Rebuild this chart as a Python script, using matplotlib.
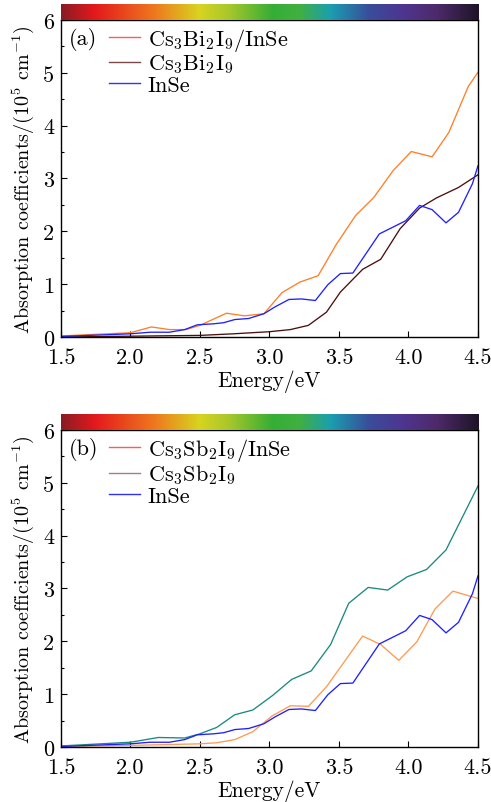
import numpy as np
import matplotlib
matplotlib.use("Agg")
import matplotlib.pyplot as plt
from matplotlib.colors import LinearSegmentedColormap
from matplotlib.lines import Line2D
from matplotlib.ticker import MultipleLocator

plt.rcParams['font.family'] = 'serif'
plt.rcParams['font.serif'] = ['cmr10', 'DejaVu Serif']
plt.rcParams['mathtext.fontset'] = 'cm'
plt.rcParams['axes.formatter.use_mathtext'] = True
plt.rcParams['axes.unicode_minus'] = False

# ---------------- data ----------------
# panel (a)
a_hetero_x = [1.5, 2.0, 2.15, 2.28, 2.40, 2.50, 2.69, 2.82, 2.96, 3.09, 3.22, 3.35, 3.48, 3.62, 3.75, 3.89, 4.02, 4.17, 4.29, 4.43, 4.5]
a_hetero_y = [0.02, 0.08, 0.19, 0.14, 0.14, 0.22, 0.45, 0.40, 0.44, 0.84, 1.04, 1.16, 1.75, 2.30, 2.64, 3.15, 3.51, 3.41, 3.87, 4.74, 5.01]

a_bulk_x = [1.5, 2.5, 2.74, 3.0, 3.15, 3.28, 3.41, 3.51, 3.67, 3.80, 3.94, 4.08, 4.20, 4.36, 4.5]
a_bulk_y = [0.0, 0.03, 0.06, 0.10, 0.14, 0.22, 0.47, 0.85, 1.28, 1.47, 2.05, 2.44, 2.63, 2.83, 3.07]

# InSe (same in both panels)
inse_x = [1.5, 2.0, 2.14, 2.28, 2.39, 2.48, 2.60, 2.67, 2.75, 2.85, 2.96, 3.04, 3.14, 3.23, 3.33, 3.42, 3.51, 3.60, 3.79, 3.98, 4.08, 4.17, 4.27, 4.36, 4.46, 4.5]
inse_y = [0.01, 0.06, 0.09, 0.09, 0.14, 0.23, 0.25, 0.27, 0.33, 0.35, 0.44, 0.57, 0.71, 0.72, 0.69, 0.99, 1.20, 1.21, 1.95, 2.20, 2.49, 2.41, 2.16, 2.36, 2.90, 3.24]

# panel (b)
b_hetero_x = [1.5, 2.0, 2.2, 2.39, 2.5, 2.62, 2.75, 2.88, 3.02, 3.16, 3.30, 3.44, 3.57, 3.71, 3.85, 3.99, 4.13, 4.27, 4.5]
b_hetero_y = [0.02, 0.09, 0.18, 0.17, 0.25, 0.37, 0.61, 0.70, 0.97, 1.28, 1.44, 1.94, 2.72, 3.02, 2.97, 3.22, 3.36, 3.73, 4.94]

b_bulk_x = [1.5, 2.0, 2.5, 2.62, 2.75, 2.88, 3.02, 3.15, 3.28, 3.41, 3.54, 3.67, 3.80, 3.93, 4.06, 4.19, 4.32, 4.5]
b_bulk_y = [0.01, 0.03, 0.06, 0.08, 0.14, 0.29, 0.59, 0.78, 0.77, 1.14, 1.62, 2.10, 1.94, 1.64, 1.99, 2.61, 2.95, 2.81]

labels_a = [r'Cs$_3$Bi$_2$I$_9$/InSe', r'Cs$_3$Bi$_2$I$_9$', 'InSe']
labels_b = [r'Cs$_3$Sb$_2$I$_9$/InSe', r'Cs$_3$Sb$_2$I$_9$', 'InSe']
xticks = [1.5, 2.0, 2.5, 3.0, 3.5, 4.0, 4.5]
yticks = [0, 1, 2, 3, 4, 5, 6]

# spectrum colour bar
spec_pos = [0.0, 0.08, 0.225, 0.33, 0.40, 0.506, 0.57, 0.645, 0.74, 0.82, 0.90, 1.0]
spec_col = ['#8a1c24', '#e4191c', '#ee7a1e', '#d8d420', '#a8c82a', '#35ae35',
            '#40b040', '#1a9fb0', '#3a4c9a', '#4e3590', '#4e2a6a', '#1e1428']
cmap = LinearSegmentedColormap.from_list('spec', list(zip(spec_pos, spec_col)))

fig = plt.figure(figsize=(4.91, 8.03), dpi=100)

L, W, H = 0.1242, 0.8493, 0.3948
panels = [
    dict(bottom=0.5791, tag='(a)', labels=labels_a,
         series=[(a_hetero_x, a_hetero_y, '#ff7f27'), (a_bulk_x, a_bulk_y, '#4a1010'), (inse_x, inse_y, '#2020ff')],
         leg_cols=['#ff5a5a', '#7a4848', '#3030ff']),
    dict(bottom=0.0685, tag='(b)', labels=labels_b,
         series=[(b_hetero_x, b_hetero_y, '#1a8a80'), (b_bulk_x, b_bulk_y, '#ff9a50'), (inse_x, inse_y, '#2020ff')],
         leg_cols=['#ff5a5a', '#a08080', '#3030ff']),
]

fs_tick = 16
fs_leg = 16
for p in panels:
    ax = fig.add_axes([L, p['bottom'], W, H])
    for x, y, c in p['series']:
        ax.plot(x, y, color=c, lw=0.95)
    ax.set_xlim(1.5, 4.5)
    ax.set_ylim(0, 6)
    ax.set_xticks(xticks)
    ax.set_xticklabels([f'{v:.1f}' for v in xticks])
    ax.set_yticks(yticks)
    ax.set_yticklabels([str(v) for v in yticks])
    ax.yaxis.set_minor_locator(MultipleLocator(0.5))
    ax.tick_params(direction='in', which='both', top=False, right=False, labelsize=fs_tick)
    ax.tick_params(axis='x', which='major', pad=7.5)
    ax.tick_params(axis='y', which='major', pad=5)
    ax.tick_params(which='major', length=4, width=0.8)
    ax.tick_params(which='minor', length=2.5, width=0.8)
    for s in ax.spines.values():
        s.set_linewidth(1.0)
    ax.set_xlabel('Energy/eV', fontsize=15.5, labelpad=2)
    ax.set_ylabel(r'Absorption coefficients/(10$^5$ cm$^{-1}$)', fontsize=14.5, labelpad=5)
    ax.text(0.02, 0.94, p['tag'], transform=ax.transAxes, fontsize=fs_leg, va='center', ha='left')
    handles = [Line2D([], [], color=c, lw=1.0) for c in p['leg_cols']]
    ax.legend(handles, p['labels'], loc='upper left', bbox_to_anchor=(0.115, 0.982),
              frameon=False, fontsize=fs_leg, handlelength=1.4, handletextpad=0.35,
              labelspacing=0.0, borderpad=0, borderaxespad=0)
    cax = fig.add_axes([L, p['bottom'] + H, W, 0.0199])
    cax.imshow(np.linspace(0, 1, 512)[None, :], aspect='auto', cmap=cmap, extent=[0, 1, 0, 1])
    cax.set_axis_off()

fig.savefig('out.png', dpi=100)
